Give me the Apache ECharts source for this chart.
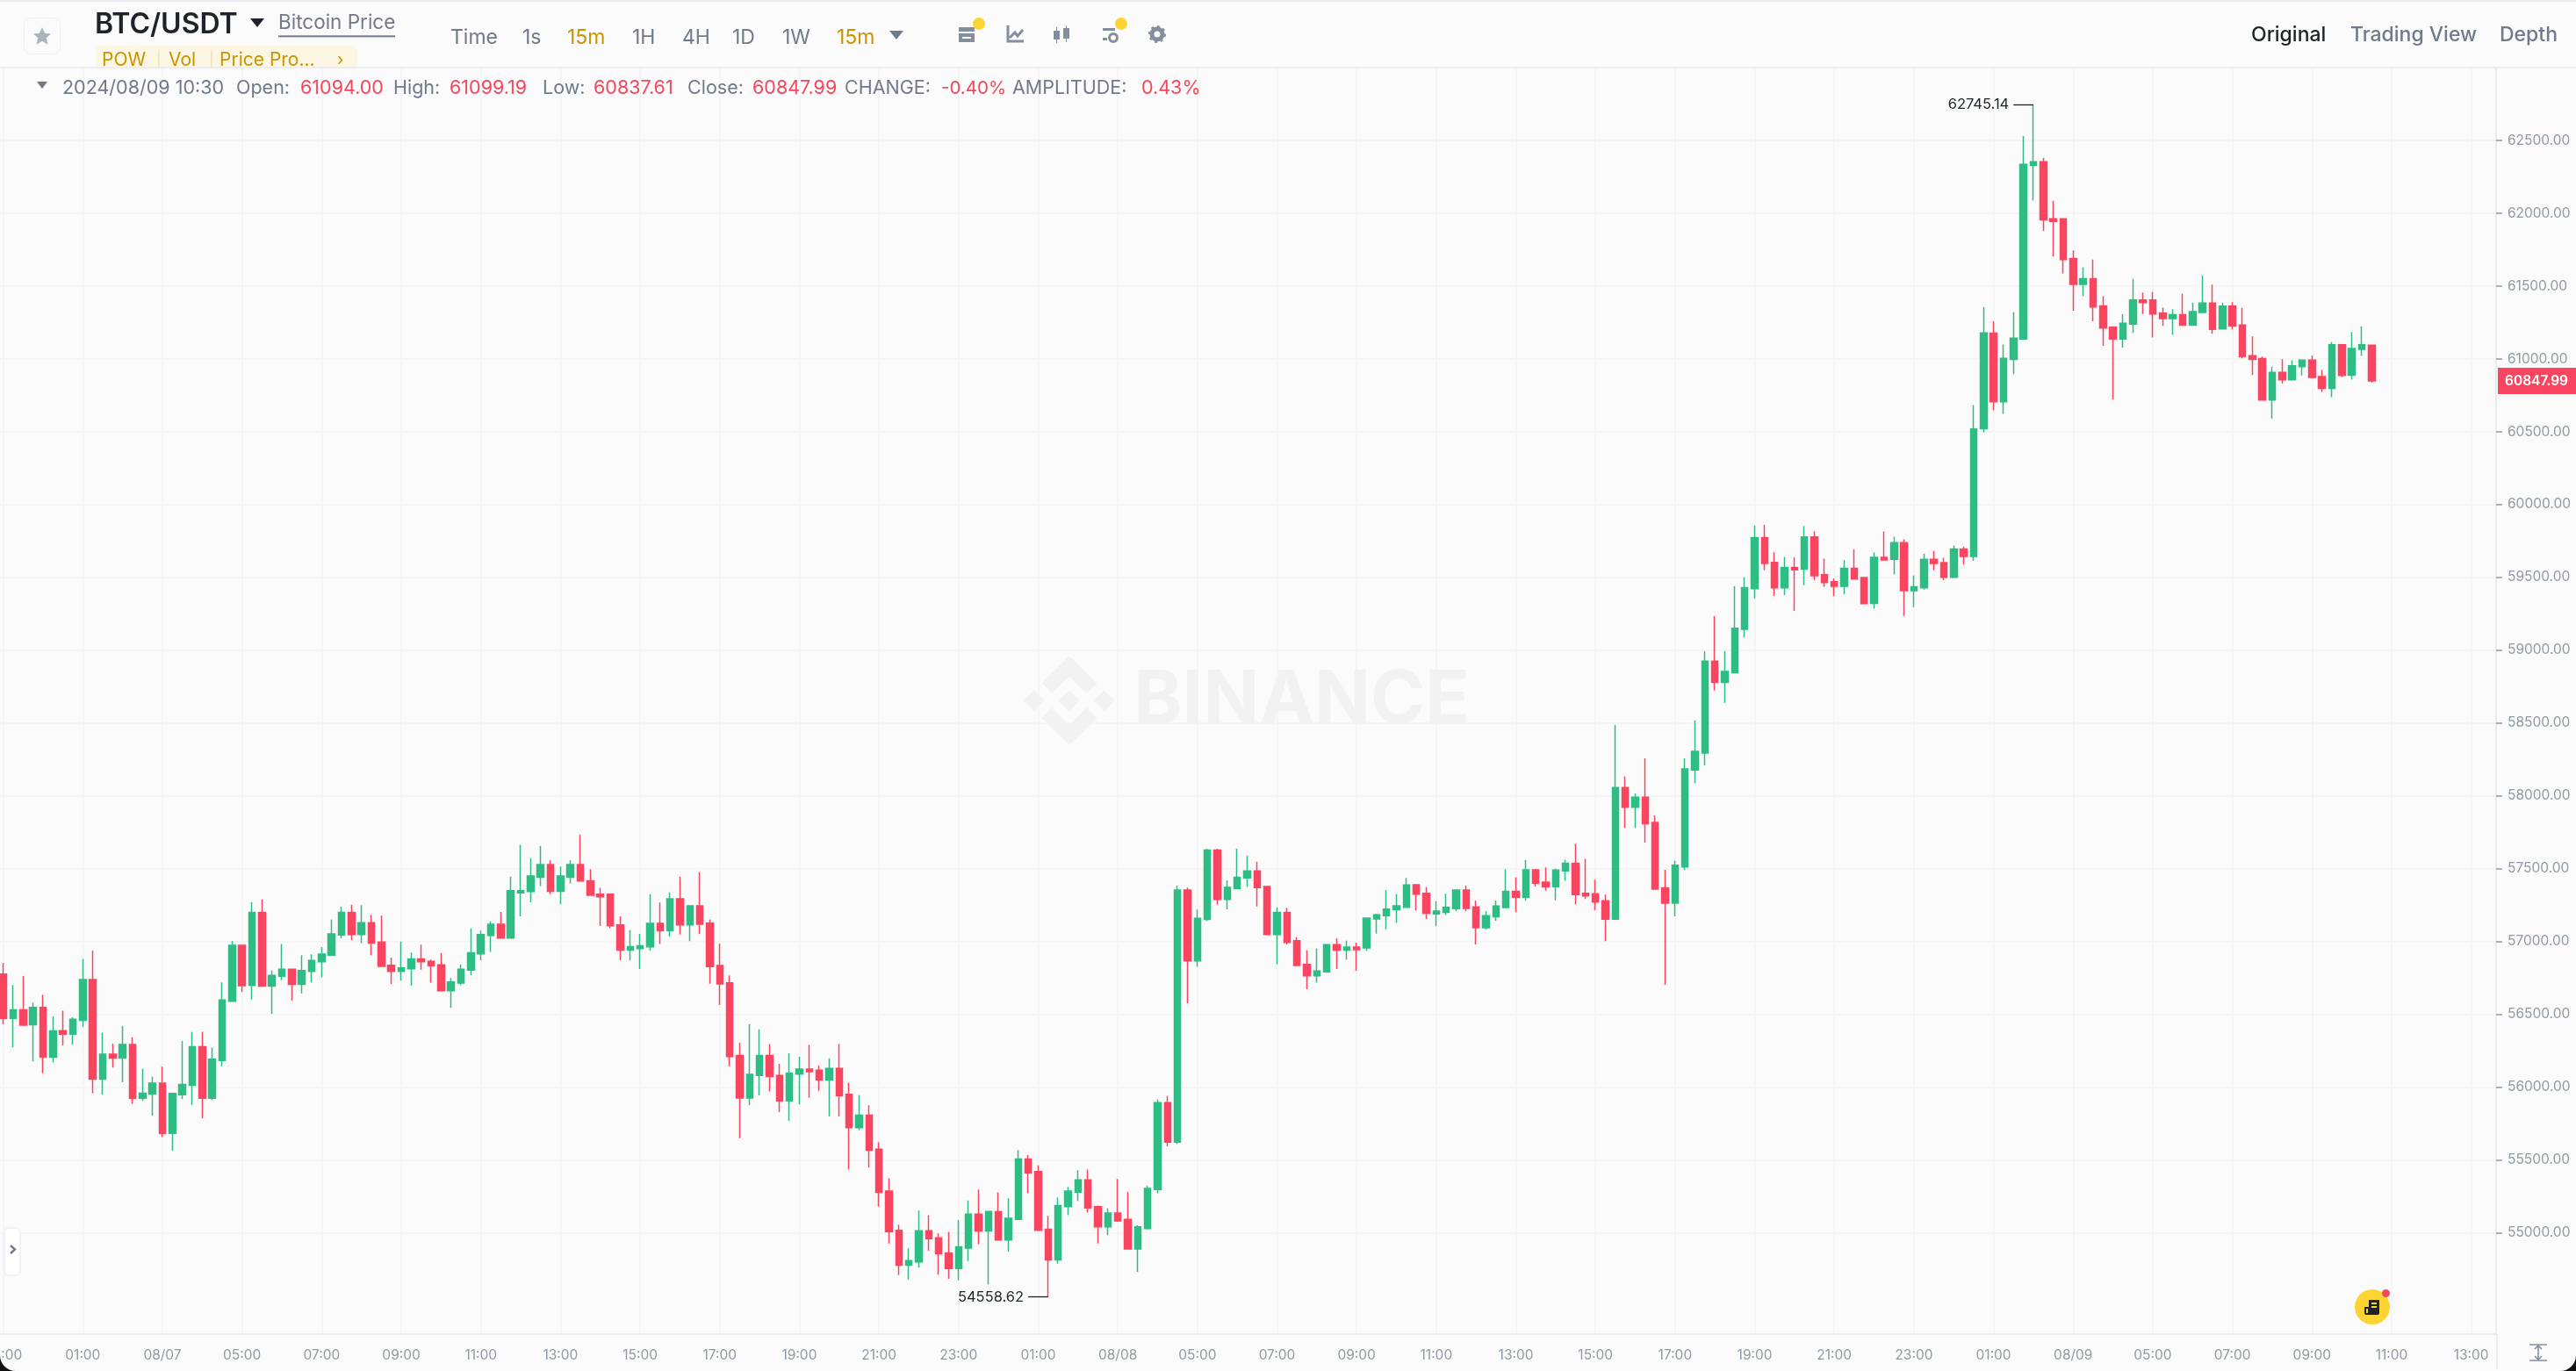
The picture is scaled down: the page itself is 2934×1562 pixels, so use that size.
<!DOCTYPE html>
<html>
<head>
<meta charset="utf-8">
<title>BTC/USDT</title>
<script src="https://cdn.jsdelivr.net/npm/echarts@6/dist/echarts.min.js"></script>
<style>
  html, body { margin: 0; padding: 0; background: #111; }
  #page { position: relative; width: 2934px; height: 1562px; overflow: hidden; background: #fbfbfb;
    border-radius: 0 0 18px 18px; font-family: Inter, "Noto Sans", sans-serif; }
  #chart { position: absolute; left: 0; top: 0; width: 2934px; height: 1562px; }
  .t { position: absolute; white-space: nowrap; line-height: 1; transform: translateY(-50%); color: #707a8a; }
  .bar { position: absolute; background: #eaecef; }
  .gold { color: #c99400; }
  .red { color: #f6465d; }
  svg { position: absolute; overflow: visible; }
  .dot { position: absolute; border-radius: 50%; }
</style>
</head>
<body>
<div id="page">
  <div id="chart"></div>

  <div class="bar" style="left:0;top:0;width:2934px;height:2px"></div>
  <div class="bar" style="left:0;top:76px;width:2934px;height:2px"></div>
  <div class="bar" style="left:2843px;top:1520px;width:2px;height:40px"></div>

  <div style="position:absolute;left:27px;top:20px;width:40px;height:40px;border:1px solid #eef0f2;border-radius:8px"></div>
  <svg style="left:37px;top:30px" width="22" height="22" viewBox="0 0 24 24"><path fill="#aeb4bc" d="M12 1l3.3 7.4 7.7.8-5.8 5.3 1.7 8L12 18.4 5.1 22.5l1.7-8L1 9.2l7.7-.8z"/></svg>

  <div class="t" style="left:108px;top:27px;font-size:32px;font-weight:600;color:#1e2329">BTC/USDT</div>
  <svg style="left:285px;top:21px" width="18" height="11"><path fill="#1e2329" d="M0 0h16L8 10z"/></svg>
  <div class="t" style="left:317px;top:27px;font-size:22.5px;border-bottom:2px solid #707a8a;padding-bottom:3px;transform:translateY(-46%)">Bitcoin Price</div>

  <div class="t" style="left:513px;top:42px;font-size:23px">Time</div>
  <div class="t" style="left:595px;top:42px;font-size:23px">1s</div>
  <div class="t gold" style="left:646px;top:42px;font-size:23px">15m</div>
  <div class="t" style="left:720px;top:42px;font-size:23px">1H</div>
  <div class="t" style="left:777px;top:42px;font-size:23px">4H</div>
  <div class="t" style="left:834px;top:42px;font-size:23px">1D</div>
  <div class="t" style="left:891px;top:42px;font-size:23px">1W</div>
  <div class="t gold" style="left:953px;top:42px;font-size:23px">15m</div>
  <svg style="left:1013px;top:35px" width="16" height="10"><path fill="#707a8a" d="M0 0h16L8 10z"/></svg>

  <svg style="left:1091px;top:29px" width="20" height="20"><path fill="#848e9c" d="M1 2h18v5H1zM1 9h18v10H1z"/><path fill="#fbfbfb" d="M5 13h10v2H5z"/></svg>
  <svg style="left:1146px;top:29px" width="20" height="20"><path fill="none" stroke="#848e9c" stroke-width="3" d="M2 0v18h18M4 14l6-6 3 4 6-7"/></svg>
  <svg style="left:1199px;top:29px" width="20" height="20"><path fill="#848e9c" d="M1 6h7v10H1zM12 3h7v12h-7zM4 2h1v18H4zM15 0h1v19h-1z"/></svg>
  <svg style="left:1255px;top:29px" width="20" height="20"><path fill="#848e9c" d="M1 3h14v3H1zM1 14h5v3H1z"/><circle cx="13" cy="14" r="4.5" fill="none" stroke="#848e9c" stroke-width="3"/></svg>
  <svg style="left:1308px;top:29px" width="20" height="20"><circle cx="10" cy="10" r="6" fill="none" stroke="#848e9c" stroke-width="5"/><circle cx="10" cy="10" r="9" fill="none" stroke="#848e9c" stroke-width="2" stroke-dasharray="3 4"/></svg>
  <div class="dot" style="left:1108px;top:20px;width:14px;height:14px;background:#fcd535"></div>
  <div class="dot" style="left:1270px;top:20px;width:14px;height:14px;background:#fcd535"></div>

  <div style="position:absolute;left:109px;top:52px;width:298px;height:24px;background:#fdf6e3;border-radius:6px 6px 0 0"></div>
  <div class="t gold" style="left:116px;top:67px;font-size:21px">POW</div>
  <div class="t" style="left:178px;top:67px;font-size:17px;color:#eadfb8">|</div>
  <div class="t gold" style="left:192px;top:67px;font-size:21px">Vol</div>
  <div class="t" style="left:238px;top:67px;font-size:17px;color:#eadfb8">|</div>
  <div class="t gold" style="left:250px;top:67px;font-size:21px">Price Pro...</div>
  <div class="t gold" style="left:384px;top:67px;font-size:19px">›</div>

  <svg style="left:42px;top:93px" width="12" height="8"><path fill="#707a8a" d="M0 0h12L6 8z"/></svg>
  <div class="t" style="left:71px;top:100px;font-size:21.5px">2024/08/09 10:30</div>
  <div class="t" style="left:269px;top:100px;font-size:21.5px">Open:</div>
  <div class="t red" style="left:342px;top:100px;font-size:21.5px">61094.00</div>
  <div class="t" style="left:448px;top:100px;font-size:21.5px">High:</div>
  <div class="t red" style="left:512px;top:100px;font-size:21.5px">61099.19</div>
  <div class="t" style="left:618px;top:100px;font-size:21.5px">Low:</div>
  <div class="t red" style="left:676px;top:100px;font-size:21.5px">60837.61</div>
  <div class="t" style="left:783px;top:100px;font-size:21.5px">Close:</div>
  <div class="t red" style="left:857px;top:100px;font-size:21.5px">60847.99</div>
  <div class="t" style="left:962px;top:100px;font-size:21.5px">CHANGE:</div>
  <div class="t red" style="left:1072px;top:100px;font-size:20.5px">-0.40%</div>
  <div class="t" style="left:1153px;top:100px;font-size:21.5px">AMPLITUDE:</div>
  <div class="t red" style="left:1300px;top:100px;font-size:21.5px">0.43%</div>

  <div class="t" style="left:2564px;top:39px;font-size:23px;font-weight:500;color:#1e2329">Original</div>
  <div class="t" style="left:2677px;top:39px;font-size:23px;font-weight:500">Trading View</div>
  <div class="t" style="left:2847px;top:39px;font-size:23px;font-weight:500">Depth</div>

  <div style="position:absolute;left:4px;top:1398px;width:16px;height:52px;background:#fff;border:2px solid #f0f1f3;border-radius:6px"></div>
  <svg style="left:11px;top:1418px" width="8" height="11"><path fill="none" stroke="#707a8a" stroke-width="2.4" d="M1 1l5 4.5L1 10"/></svg>

  <div class="dot" style="left:2682px;top:1469px;width:40px;height:40px;background:#fcd535"></div>
  <svg style="left:2692px;top:1480px" width="20" height="20"><path fill="#1e2329" d="M6 1h12v15a2 2 0 0 1-2 2H3a2 2 0 0 1-2-2V9h5z"/><path fill="#fcd535" d="M9 4h6v2H9zM9 8h6v2H9zM3 11h2v5H3z"/></svg>
  <div class="dot" style="left:2713px;top:1469px;width:9px;height:9px;background:#f6465d"></div>

  <svg style="left:2881px;top:1531px" width="20" height="20"><path fill="none" stroke="#848e9c" stroke-width="1.6" d="M0 1h20M0 19h20M10 2v16M6 6l4-4 4 4M6 14l4 4 4-4"/></svg>
</div>

<script>
const tickLabels = [
  "23:00", "01:00", "08/07", "05:00", "07:00", "09:00", "11:00", "13:00",
  "15:00", "17:00", "19:00", "21:00", "23:00", "01:00", "08/08", "05:00",
  "07:00", "09:00", "11:00", "13:00", "15:00", "17:00", "19:00", "21:00",
  "23:00", "01:00", "08/09", "05:00", "07:00", "09:00", "11:00", "13:00"
];
const priceTicks = [55000, 55500, 56000, 56500, 57000, 57500, 58000, 58500, 59000, 59500, 60000, 60500, 61000, 61500, 62000, 62500];

const opens = [
  56777, 56472, 56530, 56428, 56548, 56205, 56388, 56363, 56458, 56739,
  56054, 56227, 56199, 56293, 55924, 55952, 56028, 55683, 55948, 56012,
  56277, 55924, 56183, 56590, 56974, 56699, 57199, 56693, 56761, 56809,
  56705, 56795, 56861, 56906, 57044, 57199, 57048, 57129, 56996, 56837,
  56795, 56813, 56880, 56863, 56839, 56662, 56714, 56803, 56915, 57042,
  57118, 57024, 57333, 57343, 57441, 57528, 57345, 57441, 57528, 57417,
  57325, 57325, 57114, 56941, 56951, 56963, 57124, 57074, 57293, 57114,
  57245, 57126, 56835, 56716, 56218, 55925, 56080, 56218, 56080, 55905,
  56090, 56124, 56116, 56048, 56128, 55950, 55721, 55807, 55574, 55287,
  55016, 54777, 54799, 55014, 54966, 54861, 54755, 54895, 55128, 55012,
  55144, 54950, 55092, 55506, 55420, 55024, 54813, 55179, 55279, 55363,
  55179, 55040, 55136, 55092, 54889, 55028, 55297, 55893, 55622, 57353,
  56866, 57151, 57627, 57289, 57363, 57436, 57484, 57378, 57048, 57199,
  57006, 56843, 56765, 56791, 56978, 56940, 56962, 56956, 57155, 57177,
  57217, 57235, 57390, 57331, 57189, 57199, 57225, 57353, 57237, 57094,
  57169, 57233, 57345, 57303, 57492, 57408, 57376, 57484, 57537, 57330,
  57328, 57280, 57153, 58057, 57922, 57990, 57818, 57368, 57263, 57512,
  58177, 58293, 58924, 58779, 58845, 59143, 59422, 59773, 59603, 59428,
  59568, 59556, 59777, 59518, 59470, 59438, 59562, 59498, 59321, 59637,
  59623, 59739, 59408, 59428, 59623, 59601, 59500, 59695, 59643, 60520,
  61177, 60705, 60996, 61137, 62328, 62354, 61962, 61962, 61689, 61512,
  61551, 61364, 61217, 61137, 61239, 61404, 61404, 61314, 61277, 61304,
  61231, 61318, 61384, 61205, 61362, 61233, 61022, 61002, 60717, 60908,
  60856, 60946, 60992, 60878, 60798, 61097, 60888, 61065, 61094
];
const closes = [
  56472, 56530, 56426, 56548, 56205, 56386, 56363, 56466, 56739, 56054,
  56227, 56199, 56293, 55922, 55958, 56028, 55681, 55956, 56018, 56277,
  55924, 56191, 56598, 56974, 56697, 57199, 56693, 56767, 56809, 56705,
  56801, 56870, 56914, 57052, 57199, 57048, 57129, 56988, 56829, 56795,
  56819, 56880, 56861, 56833, 56662, 56722, 56809, 56923, 57048, 57118,
  57024, 57349, 57349, 57449, 57528, 57345, 57449, 57528, 57415, 57317,
  57307, 57108, 56941, 56965, 56971, 57124, 57074, 57293, 57114, 57245,
  57118, 56827, 56708, 56210, 55925, 56088, 56218, 56072, 55905, 56096,
  56124, 56106, 56048, 56128, 55942, 55721, 55807, 55566, 55277, 55008,
  54777, 54809, 55014, 54960, 54855, 54755, 54904, 55128, 55012, 55146,
  54950, 55100, 55506, 55412, 55016, 54813, 55187, 55287, 55363, 55171,
  55040, 55136, 55082, 54889, 55040, 55305, 55893, 55622, 57353, 56866,
  57159, 57627, 57289, 57372, 57440, 57484, 57370, 57048, 57199, 56994,
  56835, 56765, 56797, 56978, 56940, 56962, 56944, 57161, 57183, 57223,
  57245, 57388, 57325, 57193, 57209, 57235, 57353, 57227, 57094, 57177,
  57243, 57345, 57303, 57492, 57400, 57376, 57490, 57537, 57322, 57312,
  57271, 57153, 58057, 57922, 57990, 57808, 57360, 57263, 57523, 58185,
  58306, 58924, 58779, 58854, 59151, 59430, 59773, 59595, 59428, 59568,
  59552, 59777, 59510, 59464, 59438, 59562, 59488, 59319, 59637, 59619,
  59739, 59408, 59436, 59623, 59595, 59500, 59695, 59643, 60518, 61179,
  60705, 61004, 61143, 62336, 62354, 61954, 61944, 61681, 61512, 61551,
  61356, 61211, 61137, 61245, 61404, 61386, 61308, 61277, 61304, 61231,
  61324, 61384, 61203, 61362, 61225, 61016, 60996, 60717, 60908, 60856,
  60952, 60992, 60872, 60798, 61097, 60886, 61071, 61097, 60847.99
];
const lows = [
  56432, 56273, 56426, 56177, 56095, 56169, 56285, 56291, 56414, 55958,
  55948, 56135, 56034, 55884, 55906, 55805, 55657, 55562, 55918, 55878,
  55787, 55912, 56143, 56590, 56653, 56602, 56693, 56504, 56735, 56594,
  56643, 56717, 56755, 56906, 57022, 57010, 56988, 56904, 56829, 56707,
  56731, 56697, 56807, 56716, 56662, 56544, 56700, 56769, 56871, 56929,
  57024, 57024, 57172, 57269, 57381, 57325, 57255, 57399, 57411, 57315,
  57106, 57090, 56871, 56871, 56811, 56937, 56982, 57034, 57048, 57002,
  57052, 56710, 56564, 56144, 55650, 55877, 55943, 55971, 55829, 55769,
  55881, 55927, 55973, 55799, 55799, 55434, 55703, 55448, 55179, 54926,
  54709, 54679, 54761, 54877, 54713, 54683, 54673, 54805, 54922, 54644,
  54950, 54869, 55092, 55271, 55016, 54558.62, 54787, 55120, 55219, 55138,
  54926, 54984, 55076, 54889, 54731, 55022, 55271, 55594, 55609, 56576,
  56827, 57141, 57253, 57221, 57363, 57374, 57241, 57048, 56843, 56980,
  56833, 56673, 56717, 56791, 56811, 56874, 56797, 56936, 57054, 57084,
  57127, 57231, 57211, 57155, 57104, 57181, 57207, 57207, 56980, 57082,
  57143, 57233, 57201, 57279, 57378, 57349, 57283, 57418, 57255, 57292,
  57215, 57002, 57153, 57780, 57780, 57679, 57360, 56703, 57173, 57490,
  58087, 58209, 58723, 58639, 58845, 59088, 59354, 59548, 59372, 59378,
  59269, 59446, 59482, 59436, 59370, 59386, 59486, 59317, 59285, 59617,
  59520, 59235, 59295, 59416, 59548, 59480, 59498, 59588, 59613, 60495,
  60647, 60623, 60896, 61137, 62087, 61878, 61703, 61585, 61330, 61430,
  61259, 61089, 60721, 61077, 61179, 61308, 61147, 61227, 61165, 61231,
  61231, 61318, 61173, 61205, 61201, 61004, 60890, 60717, 60591, 60830,
  60856, 60886, 60866, 60773, 60737, 60874, 60858, 61020, 60837.61
];
const highs = [
  56853, 56701, 56763, 56580, 56635, 56486, 56524, 56480, 56880, 56938,
  56374, 56299, 56420, 56343, 56127, 56072, 56141, 55960, 56317, 56378,
  56380, 56271, 56719, 57004, 56974, 57271, 57289, 56801, 56982, 56809,
  56906, 56912, 56962, 57151, 57239, 57253, 57249, 57183, 57177, 56890,
  57000, 56924, 56978, 56875, 56921, 56749, 56843, 57090, 57074, 57140,
  57202, 57445, 57664, 57572, 57656, 57556, 57514, 57556, 57733, 57496,
  57369, 57325, 57172, 57078, 57052, 57325, 57267, 57337, 57445, 57245,
  57475, 57152, 56984, 56767, 56305, 56433, 56397, 56295, 56160, 56233,
  56208, 56289, 56148, 56197, 56297, 56030, 55944, 55875, 55622, 55373,
  55056, 54893, 55152, 55120, 54996, 55006, 55088, 55221, 55297, 55150,
  55277, 55237, 55566, 55534, 55464, 55116, 55243, 55315, 55430, 55434,
  55187, 55169, 55369, 55281, 55052, 55323, 55915, 55940, 57384, 57370,
  57219, 57637, 57637, 57420, 57637, 57588, 57548, 57378, 57235, 57231,
  57030, 56940, 56952, 56980, 57022, 57006, 56992, 57165, 57191, 57353,
  57325, 57436, 57390, 57374, 57277, 57327, 57353, 57384, 57281, 57207,
  57281, 57496, 57440, 57560, 57498, 57508, 57500, 57561, 57671, 57567,
  57424, 57322, 58488, 58133, 58016, 58257, 57866, 57492, 57555, 58257,
  58516, 58994, 59233, 58994, 59440, 59500, 59856, 59860, 59673, 59641,
  59637, 59852, 59817, 59629, 59492, 59617, 59693, 59502, 59671, 59815,
  59779, 59761, 59512, 59663, 59681, 59635, 59719, 59711, 60683, 61356,
  61259, 61099, 61320, 62530, 62745.14, 62380, 62085, 61962, 61745, 61629,
  61681, 61430, 61223, 61306, 61549, 61456, 61460, 61352, 61342, 61448,
  61386, 61573, 61510, 61386, 61390, 61350, 61155, 61016, 60946, 60998,
  60990, 60992, 61024, 60924, 61115, 61097, 61185, 61223, 61099.19
];

const upColor = "#2ebd85";
const downColor = "#fa4560";
const axisColor = "#eaecef";
const gridColor = "#f3f3f5";
const labelColor = "#929aa5";
const watermarkColor = "#f2f2f3";

// 15m slots, 8 to a tick, the axis runs on past the last candle up to 13:30
const slotCount = 251;
const slots = [];
for (let i = 0; i < slotCount; i++) slots.push("slot" + i);

const candles = opens.map((o, i) => [o, closes[i], lows[i], highs[i]]);
const highIdx = highs.indexOf(Math.max(...highs));
const lowIdx = lows.indexOf(Math.min(...lows));
const lastIdx = closes.length - 1;

function extremeLine(idx, value) {
  return [
    { coord: [slots[idx - 2], value], label: { formatter: value.toFixed(2) } },
    { coord: [slots[idx], value] }
  ];
}

function poly(points) {
  return { type: "polygon", silent: true, z: 0, shape: { points }, style: { fill: watermarkColor } };
}

const chart = echarts.init(document.getElementById("chart"));
chart.setOption({
  animation: false,
  backgroundColor: "transparent",
  textStyle: { fontFamily: "Inter" },
  grid: { left: -2, width: 2845, top: 77, bottom: 42, outerBoundsMode: "none" },
  xAxis: {
    type: "category",
    data: slots,
    axisLine: { lineStyle: { color: axisColor, width: 2 } },
    axisTick: { alignWithLabel: true, interval: 7, length: 8, lineStyle: { color: labelColor, width: 2 } },
    axisLabel: {
      interval: 7,
      margin: 16,
      fontSize: 15.5,
      color: labelColor,
      hideOverlap: false,
      formatter: (v, i) => tickLabels[i / 8]
    },
    splitLine: { show: true, alignWithLabel: true, interval: 7, lineStyle: { color: gridColor, width: 1.5 } }
  },
  yAxis: {
    type: "value",
    position: "right",
    min: 54304,
    max: 63000,
    axisLine: { show: true, lineStyle: { color: axisColor, width: 2 } },
    axisTick: { show: true, length: 7, customValues: priceTicks, lineStyle: { color: labelColor, width: 1.5 } },
    axisLabel: { customValues: priceTicks, margin: 13, padding: [2, 0, 0, 0], fontSize: 15.5, color: labelColor, formatter: v => v.toFixed(2) },
    splitLine: { show: true, lineStyle: { color: gridColor, width: 1.5 } }
  },
  series: [{
    type: "candlestick",
    z: 3,
    barWidth: 8,
    data: candles,
    itemStyle: { color: upColor, color0: downColor, borderColor: upColor, borderColor0: downColor, borderWidth: 1.5 },
    markLine: {
      silent: true,
      symbol: "none",
      animation: false,
      lineStyle: { color: "#1e2329", type: "solid", width: 1.3 },
      label: { position: "start", distance: 5, fontSize: 16.5, fontFamily: "Inter", color: "#1e2329" },
      data: [extremeLine(highIdx, highs[highIdx]), extremeLine(lowIdx, lows[lowIdx])]
    }
  }]
});

// watermark and last price tag, the tag needs the axis scale so this comes second
const lastY = chart.convertToPixel({ yAxisIndex: 0 }, closes[lastIdx]);
chart.setOption({
  graphic: [
    poly([[1217.7, 747.3], [1249.5, 778.3], [1238, 790.3], [1217.7, 770.7], [1198, 790.3], [1186.6, 778.3]]),
    poly([[1217.7, 849], [1249.5, 818.3], [1238, 806.3], [1217.7, 826], [1198, 806.3], [1186.6, 818.3]]),
    poly([[1217.7, 786.7], [1230, 798], [1217.7, 810], [1205, 798]]),
    poly([[1178, 786.7], [1190, 798], [1178, 810], [1166, 798]]),
    poly([[1257.6, 786.7], [1269.6, 798], [1257.6, 810], [1245.6, 798]]),
    {
      type: "text", silent: true, z: 0, x: 1291, y: 799,
      style: { text: "BINANCE", fontFamily: "Inter", fontWeight: 700, fontSize: 84, fill: watermarkColor, verticalAlign: "middle" }
    },
    {
      type: "rect", z: 10, x: 2845, y: lastY,
      shape: { x: 0, y: -15, width: 89, height: 30 },
      style: { fill: downColor }
    },
    {
      type: "text", z: 11, x: 2889, y: lastY,
      style: { text: closes[lastIdx].toFixed(2), fill: "#fff", fontFamily: "Inter", fontWeight: 600, fontSize: 15.5, align: "center", verticalAlign: "middle" }
    }
  ]
});
</script>
</body>
</html>
